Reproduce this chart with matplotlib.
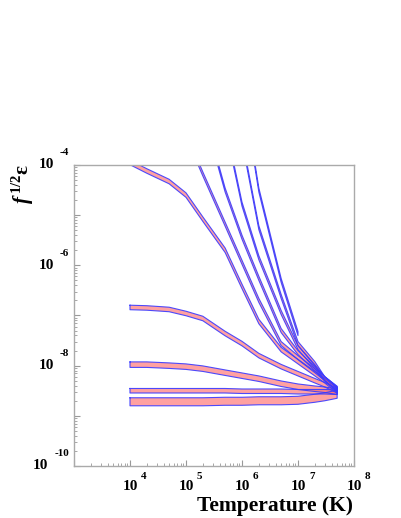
import numpy as np
import matplotlib
matplotlib.use("Agg")
import matplotlib.pyplot as plt
from matplotlib.ticker import LogLocator, NullFormatter

plt.rcParams["font.family"] = ["Liberation Serif", "DejaVu Serif"]
plt.rcParams["font.weight"] = "bold"
plt.rcParams["mathtext.fontset"] = "custom"
plt.rcParams["mathtext.rm"] = "Liberation Serif:bold"
plt.rcParams["mathtext.it"] = "Liberation Serif:italic:bold"
plt.rcParams["mathtext.bf"] = "Liberation Serif:bold"

# temperature grid (K)
temp = [1e4, 2e4, 5e4, 1e5, 2e5, 5e5, 1e6, 2e6, 5e6, 1e7, 2e7, 3e7, 5e7]

# log10(f^1/2 eps) along each band
flat_1 = [-6.84, -6.85, -6.88, -6.96, -7.06, -7.36, -7.56, -7.80, -8.02, -8.16, -8.30, -8.38, -8.50]
flat_2 = [-7.98, -7.98, -8.00, -8.02, -8.06, -8.14, -8.20, -8.26, -8.36, -8.42, -8.46, -8.48, -8.52]
flat_3 = [-8.50, -8.50, -8.50, -8.50, -8.50, -8.50, -8.51, -8.51, -8.51, -8.52, -8.52, -8.52, -8.53]
flat_4 = [-8.72, -8.72, -8.72, -8.72, -8.72, -8.71, -8.71, -8.70, -8.70, -8.69, -8.65, -8.62, -8.57]
curve_1 = [-3.95, -4.12, -4.33, -4.60, -5.08, -5.70, -6.42, -7.12, -7.68, -7.92, -8.16, -8.30, -8.50]

steep_a_t = temp[3:]
steep_a = [-3.40, -4.18, -5.18, -5.94, -6.70, -7.56, -7.84, -8.10, -8.26, -8.48]
steep_b_t = temp[4:]
steep_b = [-2.90, -4.50, -5.44, -6.26, -7.30, -7.74, -8.06, -8.26, -8.47]
steep_c_t = temp[5:]
steep_c = [-3.20, -4.78, -5.85, -6.94, -7.64, -8.02, -8.26, -8.46]
steep_d_t = temp[6:]
steep_d = [-3.50, -5.25, -6.62, -7.56, -7.96, -8.26, -8.45]
steep_e_t = temp[6:10]
steep_e = [-2.40, -4.50, -6.30, -7.36]

# half widths of the bands (dex)
bands = [
    (temp, flat_4, 0.08),
    (temp, flat_3, 0.045),
    (temp, flat_2, 0.055),
    (temp, flat_1, 0.045),
    (temp, curve_1, 0.045),
    (steep_a_t, steep_a, 0.04),
    (steep_b_t, steep_b, 0.04),
    (steep_c_t, steep_c, 0.04),
    (steep_d_t, steep_d, 0.04),
    (steep_e_t, steep_e, 0.04),
]

fig = plt.figure(figsize=(4.01, 5.18), dpi=100)
ax = fig.add_axes([0.1845, 0.1004, 0.6983, 0.5811])

for t, v, half in bands:
    t = np.array(t)
    v = np.array(v)
    lo = 10 ** (v - half)
    hi = 10 ** (v + half)
    ax.fill_between(t, lo, hi, facecolor="#ff6f6f", alpha=0.65, linewidth=0)
    xs = np.concatenate([t, t[::-1], t[:1]])
    ys = np.concatenate([hi, lo[::-1], hi[:1]])
    ax.plot(xs, ys, color="#3a3aff", lw=0.8, alpha=0.9)

ax.set_xscale("log")
ax.set_yscale("log")
ax.set_xlim(1e3, 1e8)
ax.set_ylim(1e-10, 1e-4)

ax.xaxis.set_major_locator(LogLocator(base=10, numticks=20))
ax.yaxis.set_major_locator(LogLocator(base=10, numticks=20))
ax.xaxis.set_minor_locator(LogLocator(base=10, subs=np.arange(2, 10), numticks=20))
ax.yaxis.set_minor_locator(LogLocator(base=10, subs=np.arange(2, 10), numticks=20))
ax.xaxis.set_minor_formatter(NullFormatter())
ax.yaxis.set_minor_formatter(NullFormatter())
ax.tick_params(which="both", direction="in", colors="#999999",
               labelbottom=False, labelleft=False, top=False, right=False)
ax.tick_params(which="major", length=4, width=0.8)
ax.tick_params(which="minor", length=2, width=0.6)
for s in ax.spines.values():
    s.set_color("#aaaaaa")
    s.set_linewidth(1.0)

# ROOT-like tick labels: "10" plus raised exponent
for e in [4, 5, 6, 7, 8]:
    ax.annotate("10", xy=(10.0 ** e, 0), xycoords=("data", "axes fraction"),
                xytext=(0, -21), textcoords="offset pixels",
                ha="center", va="center", fontsize=11)
    ax.annotate(str(e), xy=(10.0 ** e, 0), xycoords=("data", "axes fraction"),
                xytext=(11, -11), textcoords="offset pixels",
                ha="left", va="center", fontsize=8)

fig.canvas.draw()
rend = fig.canvas.get_renderer()
for e in [-4, -6, -8, -10]:
    ex = ax.annotate(str(e), xy=(0, 10.0 ** e), xycoords=("axes fraction", "data"),
                     xytext=(-5, 12), textcoords="offset pixels",
                     ha="right", va="center", fontsize=8)
    w = ex.get_window_extent(rend).width
    ax.annotate("10", xy=(0, 10.0 ** e), xycoords=("axes fraction", "data"),
                xytext=(-5 - w - 6, 0), textcoords="offset pixels",
                ha="right", va="center", fontsize=11)

fig.text(353 / 401, 1 - 506 / 518, "Temperature (K)", ha="right", va="center",
         fontsize=15.5, fontweight="bold")
fig.text(23 / 401, 1 - 164 / 518, r"$\mathit{f}^{\,\mathbf{1/2}}$ε", rotation=90,
         ha="center", va="top", fontsize=15, fontweight="bold")

fig.savefig("out.png", dpi=100)
